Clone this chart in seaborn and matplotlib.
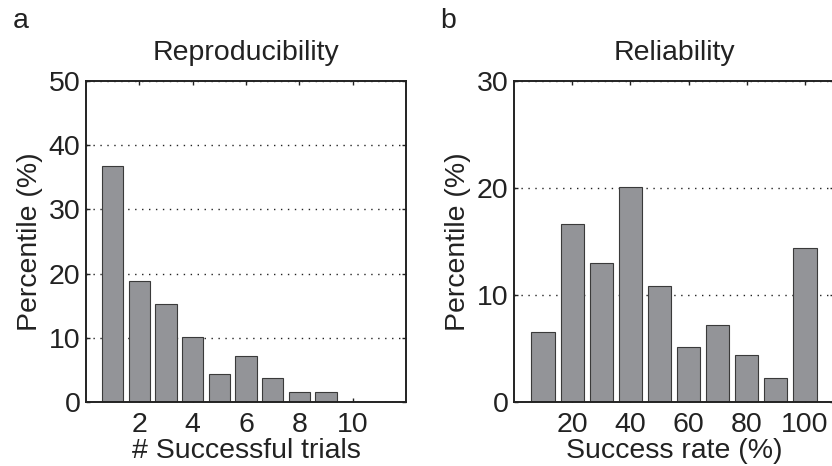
import matplotlib
matplotlib.use("Agg")
import matplotlib.pyplot as plt
import seaborn as sns
import pandas as pd

# Data
trials = [1, 2, 3, 4, 5, 6, 7, 8, 9, 10]
repro_pct = [36.8, 18.8, 15.2, 10.1, 4.4, 7.2, 3.7, 1.5, 1.5, 0.0]
rates = [10, 20, 30, 40, 50, 60, 70, 80, 90, 100]
reliab_pct = [6.5, 16.6, 13.0, 20.1, 10.8, 5.1, 7.2, 4.4, 2.2, 14.4]

sns.set_theme(style="white")
plt.rcParams['font.family'] = ['Liberation Sans', 'DejaVu Sans']
plt.rcParams['text.color'] = '#222222'
plt.rcParams['axes.labelcolor'] = '#222222'
plt.rcParams['xtick.color'] = '#222222'
plt.rcParams['ytick.color'] = '#222222'

FS = 20.5
TFS = 20.5
BAR = '#939498'
EDGE = '#3a3a3a'

fig = plt.figure(figsize=(8.32, 4.66), dpi=100)
W, H = 832, 466
axA = fig.add_axes([86 / W, (H - 402) / H, 320 / W, 321 / H])
axB = fig.add_axes([514 / W, (H - 402) / H, 320 / W, 321 / H])

dfA = pd.DataFrame({"x": trials, "y": repro_pct})
dfB = pd.DataFrame({"x": rates, "y": reliab_pct})

sns.barplot(data=dfA, x="x", y="y", native_scale=True, width=0.8, color=BAR,
            saturation=1, edgecolor=EDGE, linewidth=0.8, ax=axA)
sns.barplot(data=dfB, x="x", y="y", native_scale=True, width=0.8, color=BAR,
            saturation=1, edgecolor=EDGE, linewidth=0.8, ax=axB)


def style(ax, xlim, xticks, ylim, yticks, title, xlabel):
    ax.set_xlim(*xlim)
    ax.set_ylim(*ylim)
    ax.set_xticks(xticks)
    ax.set_xticklabels([str(t) for t in xticks])
    ax.set_yticks(yticks)
    ax.set_yticklabels([str(t) for t in yticks])
    ax.set_axisbelow(True)
    ax.yaxis.grid(True, linestyle=(0, (1, 4)), color='#222222', linewidth=1.0)
    ax.xaxis.grid(False)
    for s in ax.spines.values():
        s.set_visible(True)
        s.set_color('#222222')
        s.set_linewidth(1.4)
    ax.tick_params(axis='both', direction='in', length=3, width=1.0,
                   labelsize=FS, top=True, right=True, bottom=True, left=True,
                   pad=4)
    ax.tick_params(axis='x', pad=7)
    ax.set_title(title, fontsize=TFS, pad=15)
    ax.set_xlabel(xlabel, fontsize=FS, labelpad=0)
    ax.set_ylabel("Percentile (%)", fontsize=FS, labelpad=4)
    ax.set_facecolor('white')


style(axA, (0, 12), [2, 4, 6, 8, 10], (0, 50), [0, 10, 20, 30, 40, 50],
      "Reproducibility", "# Successful trials")
style(axB, (0, 110), [20, 40, 60, 80, 100], (0, 30), [0, 10, 20, 30],
      "Reliability", "Success rate (%)")

fig.text(13 / W, 1 - 28 / H, "a", fontsize=FS, ha='left', va='baseline')
fig.text(440 / W, 1 - 28 / H, "b", fontsize=FS, ha='left', va='baseline')

fig.savefig("out.png", dpi=100, facecolor='white')
